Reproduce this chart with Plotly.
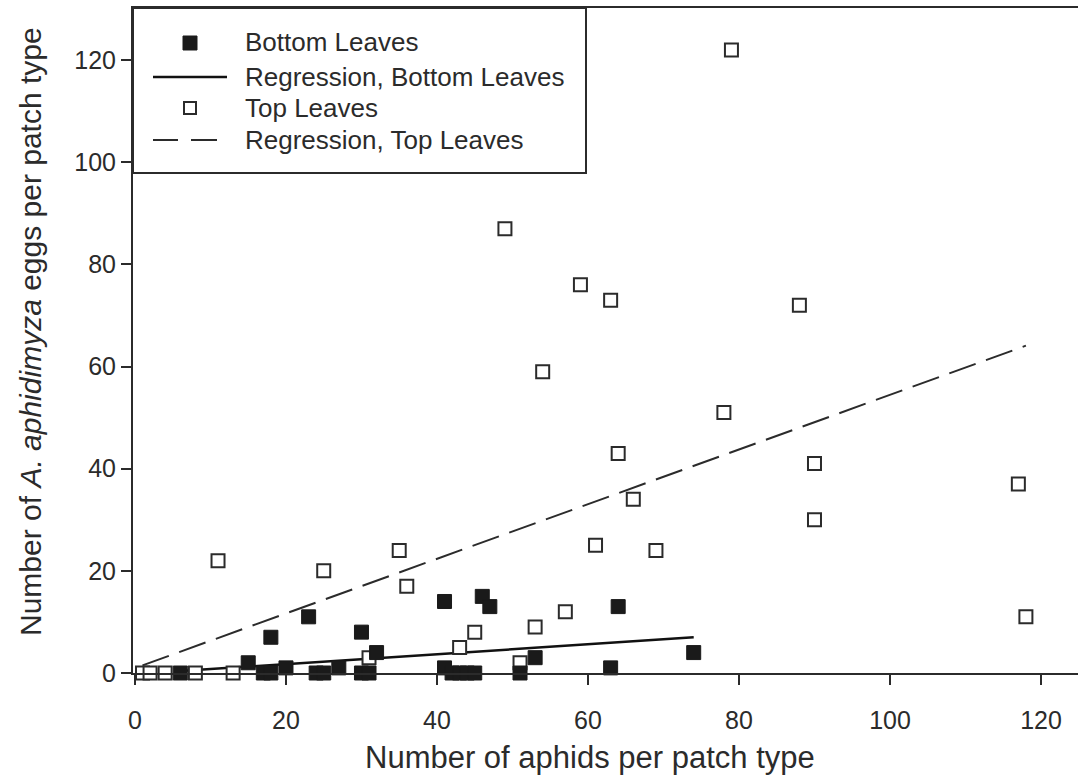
import plotly.graph_objects as go

# Aphid counts (x) and A. aphidimyza egg counts (y) per patch type
bottom_aphids = [6, 15, 17, 18, 18, 20, 23, 24, 25, 27, 30, 30, 31, 32, 41, 41, 42, 43, 44, 45,
                 46, 47, 51, 53, 63, 64, 74]
bottom_eggs = [0, 2, 0, 0, 7, 1, 11, 0, 0, 1, 8, 0, 0, 4, 14, 1, 0, 0, 0, 0,
               15, 13, 0, 3, 1, 13, 4]

top_aphids = [1, 2, 4, 8, 13, 11, 25, 31, 35, 36, 43, 45, 49, 51, 53, 54, 57, 59, 61, 63,
              64, 66, 69, 78, 79, 88, 90, 90, 117, 118]
top_eggs = [0, 0, 0, 0, 0, 22, 20, 3, 24, 17, 5, 8, 87, 2, 9, 59, 12, 76, 25, 73,
            43, 34, 24, 51, 122, 72, 41, 30, 37, 11]

# Linear fits: (intercept, slope) and the x-span over which each is drawn
bottom_fit = (-0.2, 0.097)
bottom_span = [6, 74]
top_fit = (0.96, 0.535)
top_span = [1, 118]

x_ticks = [0, 20, 40, 60, 80, 100, 120]
y_ticks = [0, 20, 40, 60, 80, 100, 120]

legend_labels = ["Bottom Leaves", "Regression, Bottom Leaves", "Top Leaves", "Regression, Top Leaves"]
x_title = "Number of aphids per patch type"
y_title = "Number of <i>A. aphidimyza</i> eggs per patch type"

# ---- page geometry ----
W, H = 1078, 784
ML, MR, MT, MB = 133, 0, 8, 111
PW, PH = W - ML - MR, H - MT - MB
INK = "#2b2b2b"
FONT = "Liberation Sans, Arial, sans-serif"


def px(xp):
    """page pixel x -> paper coordinate"""
    return (xp - ML) / PW


def py(yp):
    """page pixel y -> paper coordinate"""
    return (H - MB - yp) / PH


def fit_line(fit, span):
    b0, b1 = fit
    return span, [b0 + b1 * v for v in span]


fig = go.Figure()

bx, by = fit_line(bottom_fit, bottom_span)
tx, ty = fit_line(top_fit, top_span)

fig.add_trace(go.Scatter(x=tx, y=ty, mode="lines", name=legend_labels[3],
                         line=dict(color=INK, width=2, dash="28px,11px"),
                         cliponaxis=False))
fig.add_trace(go.Scatter(x=bx, y=by, mode="lines", name=legend_labels[1],
                         line=dict(color="#111111", width=2.5),
                         cliponaxis=False))
fig.add_trace(go.Scatter(x=top_aphids, y=top_eggs, mode="markers", name=legend_labels[2],
                         marker=dict(symbol="square", size=13, color="white",
                                     line=dict(color=INK, width=2)),
                         cliponaxis=False))
fig.add_trace(go.Scatter(x=bottom_aphids, y=bottom_eggs, mode="markers", name=legend_labels[0],
                         marker=dict(symbol="square", size=14, color="#1a1a1a",
                                     line=dict(color="#1a1a1a", width=1)),
                         cliponaxis=False))

# ---- hand-built legend box ----
shapes = [
    dict(type="rect", xref="paper", yref="paper",
         x0=px(133), x1=px(586), y0=py(173), y1=py(8),
         line=dict(color=INK, width=2), fillcolor="white", layer="above"),
    # filled square sample
    dict(type="rect", xref="paper", yref="paper",
         x0=px(183), x1=px(197), y0=py(50), y1=py(36),
         line=dict(color="#1a1a1a", width=1), fillcolor="#1a1a1a", layer="above"),
    # solid line sample
    dict(type="line", xref="paper", yref="paper",
         x0=px(153), x1=px(227), y0=py(77), y1=py(77),
         line=dict(color="#111111", width=2.5), layer="above"),
    # open square sample
    dict(type="rect", xref="paper", yref="paper",
         x0=px(184), x1=px(196), y0=py(114), y1=py(102),
         line=dict(color=INK, width=2), fillcolor="white", layer="above"),
    # dashed line sample
    dict(type="line", xref="paper", yref="paper",
         x0=px(153), x1=px(178), y0=py(140), y1=py(140),
         line=dict(color=INK, width=2), layer="above"),
    dict(type="line", xref="paper", yref="paper",
         x0=px(191), x1=px(217), y0=py(140), y1=py(140),
         line=dict(color=INK, width=2), layer="above"),
]

annotations = []
for label, yc in zip(legend_labels, [42, 77, 108, 140]):
    annotations.append(dict(text=label, xref="paper", yref="paper",
                            x=px(243), y=py(yc), xanchor="left", yanchor="middle",
                            showarrow=False, font=dict(size=26, color=INK, family=FONT)))

annotations.append(dict(text=x_title, xref="paper", yref="paper",
                        x=px(590), y=py(757), xanchor="center", yanchor="middle",
                        showarrow=False, font=dict(size=31, color=INK, family=FONT)))
annotations.append(dict(text=y_title, xref="paper", yref="paper",
                        x=px(30), y=py(332), xanchor="center", yanchor="middle",
                        textangle=-90, showarrow=False,
                        font=dict(size=30, color=INK, family=FONT)))

axis_common = dict(showgrid=False, zeroline=False, showline=True, linecolor=INK, linewidth=2,
                   ticks="outside", ticklen=10, tickwidth=2, tickcolor=INK,
                   tickfont=dict(size=25, color=INK, family=FONT))

fig.update_layout(
    width=W, height=H,
    margin=dict(l=ML, r=MR, t=MT, b=MB, pad=0),
    plot_bgcolor="white", paper_bgcolor="white",
    showlegend=False,
    shapes=shapes,
    annotations=annotations,
    xaxis=dict(range=[-0.26, 124.9], tickvals=x_ticks, mirror=True,
               ticklabelstandoff=14, **axis_common),
    yaxis=dict(range=[0, 130.2], tickvals=y_ticks, ticklabelstandoff=0, **axis_common),
)

fig.write_html("out.html")
